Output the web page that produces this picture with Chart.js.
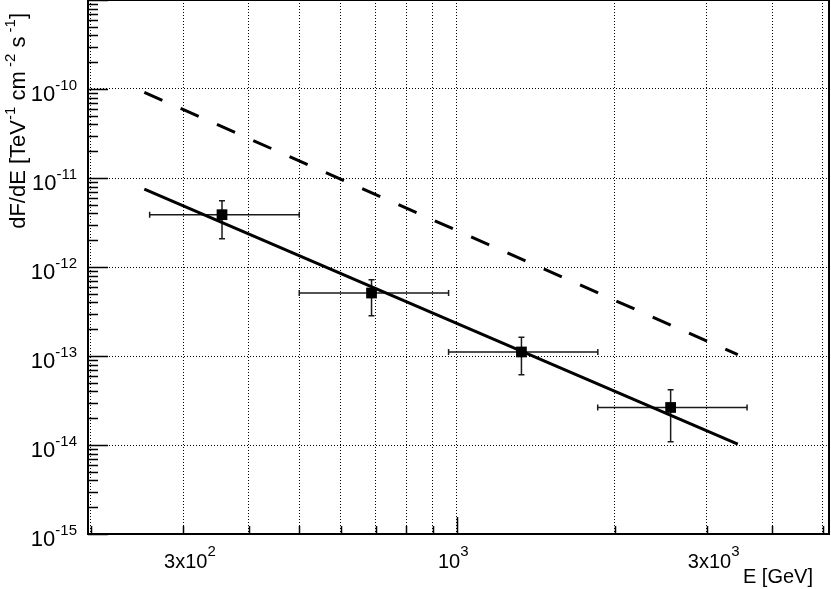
<!DOCTYPE html>
<html>
<head>
<meta charset="utf-8">
<script src="https://cdn.jsdelivr.net/npm/chart.js@4.4.1/dist/chart.umd.min.js"></script>
<style>
  html, body { margin: 0; padding: 0; background: #fff; }
  canvas { display: block; }
</style>
</head>
<body>
<canvas id="sed" width="831" height="589"></canvas>
<script>
// ===== DADOS =====
// pontos medidos (E em GeV, fluxo em TeV^-1 cm^-2 s^-1)
const energy    = [356, 687, 1328, 2559];
const energyLo  = [259, 500, 964, 1857];
const energyHi  = [500, 964, 1858, 3581];
const flux      = [3.87e-12, 5.1e-13, 1.11e-13, 2.64e-14];
const fluxLo    = [2.08e-12, 2.84e-13, 6.16e-14, 1.09e-14];
const fluxHi    = [5.56e-12, 7.2e-13, 1.62e-13, 4.18e-14];

// ajuste (linha cheia) e limite (tracejada)
const fitE      = [253, 3438];
const fitFlux   = [7.52e-12, 1.026e-14];
const refE      = [253, 3438];
const refFlux   = [9.16e-11, 1.035e-13];

// eixos
const xGrid     = [200, 300, 400, 500, 600, 700, 800, 900, 1000, 2000, 3000, 4000, 5000];
const xMajor    = [1000];
const xLabels   = [{ v: 300, base: '3x10', exp: '2' }, { v: 1000, base: '10', exp: '3' }, { v: 3000, base: '3x10', exp: '3' }];
const yDecades  = [-15, -14, -13, -12, -11, -10, -9];
const yMinor    = [2, 3, 4, 5, 6, 7, 8, 9];
const yLabelExp = [-15, -14, -13, -12, -11, -10];

const FONT = '"Liberation Sans", Arial, sans-serif';

function drawPower(ctx, x, y, base, exp, size, supSize, supRise) {
    ctx.font = size + 'px ' + FONT;
    ctx.fillText(base, x, y);
    const w = ctx.measureText(base).width;
    ctx.font = supSize + 'px ' + FONT;
    ctx.fillText(exp, x + w, y - supRise);
    return w + ctx.measureText(exp).width;
}

function powerWidth(ctx, base, exp, size, supSize) {
    ctx.font = size + 'px ' + FONT;
    const w = ctx.measureText(base).width;
    ctx.font = supSize + 'px ' + FONT;
    return w + ctx.measureText(exp).width;
}

// ===== BARRAS DE ERRO =====
const errorBars = {
    id: 'errorBars',
    beforeDatasetsDraw(chart) {
        const { ctx, scales: { x, y } } = chart;
        ctx.save();
        ctx.strokeStyle = '#1a1a1a';
        ctx.lineWidth = 1.5;
        const cap = 3;
        for (let i = 0; i < energy.length; i++) {
            const px = x.getPixelForValue(energy[i]);
            const py = y.getPixelForValue(flux[i]);
            const xl = x.getPixelForValue(energyLo[i]);
            const xh = x.getPixelForValue(energyHi[i]);
            const yl = y.getPixelForValue(fluxLo[i]);
            const yh = y.getPixelForValue(fluxHi[i]);
            ctx.beginPath();
            ctx.moveTo(xl, py); ctx.lineTo(xh, py);
            ctx.moveTo(xl, py - cap); ctx.lineTo(xl, py + cap);
            ctx.moveTo(xh, py - cap); ctx.lineTo(xh, py + cap);
            ctx.moveTo(px, yl); ctx.lineTo(px, yh);
            ctx.moveTo(px - cap, yl); ctx.lineTo(px + cap, yl);
            ctx.moveTo(px - cap, yh); ctx.lineTo(px + cap, yh);
            ctx.stroke();
        }
        ctx.restore();
    }
};

// ===== MOLDURA, TICKS E RÓTULOS (estilo ROOT) =====
const rootFrame = {
    id: 'rootFrame',
    afterDraw(chart) {
        const { ctx, chartArea: a, scales: { x, y } } = chart;
        ctx.save();
        ctx.strokeStyle = '#000';
        ctx.lineWidth = 2;
        ctx.strokeRect(a.left, a.top, a.right - a.left, a.bottom - a.top);

        // ticks do eixo x, para dentro
        ctx.lineWidth = 1.5;
        ctx.beginPath();
        xGrid.forEach(v => {
            const px = Math.round(x.getPixelForValue(v)) + 0.5;
            const len = xMajor.includes(v) ? 17 : 8;
            ctx.moveTo(px, a.bottom); ctx.lineTo(px, a.bottom - len);
        });
        // ticks do eixo y
        yDecades.forEach(e => {
            const py = Math.round(y.getPixelForValue(Math.pow(10, e))) + 0.5;
            ctx.moveTo(a.left, py); ctx.lineTo(a.left + 20, py);
            if (e === yDecades[yDecades.length - 1]) return;
            yMinor.forEach(m => {
                const q = Math.round(y.getPixelForValue(m * Math.pow(10, e))) + 0.5;
                ctx.moveTo(a.left, q); ctx.lineTo(a.left + 10, q);
            });
        });
        ctx.stroke();

        // rótulos
        ctx.fillStyle = '#000';
        ctx.textBaseline = 'alphabetic';
        ctx.textAlign = 'left';
        xLabels.forEach(l => {
            const px = x.getPixelForValue(l.v);
            drawPower(ctx, px - 19, a.bottom + 34, l.base, l.exp, 20, 15, 12.5);
        });
        yLabelExp.forEach(e => {
            const py = y.getPixelForValue(Math.pow(10, e));
            const s = String(e);
            const w = powerWidth(ctx, '10', s, 22, 15);
            drawPower(ctx, 77 - w, py + 12, '10', s, 22, 15, 11);
        });

        // título do eixo x
        ctx.font = '20px ' + FONT;
        ctx.textAlign = 'right';
        ctx.fillText('E [GeV]', 813, 583);
        ctx.textAlign = 'left';

        // título do eixo y (rotacionado)
        const parts = [['dF/dE [TeV', 0], ['-1', 1], [' cm', 0], [' -2', 1], [' s', 0], [' -1', 1], [']', 0]];
        let total = 0;
        parts.forEach(p => {
            ctx.font = (p[1] ? 15 : 22) + 'px ' + FONT;
            total += ctx.measureText(p[0]).width;
        });
        ctx.translate(25, 13 + total);
        ctx.rotate(-Math.PI / 2);
        let cx = 0;
        parts.forEach(p => {
            ctx.font = (p[1] ? 15 : 22) + 'px ' + FONT;
            ctx.fillText(p[0], cx, p[1] ? -10.5 : 0);
            cx += ctx.measureText(p[0]).width;
        });
        ctx.restore();
    }
};

// ===== GRÁFICO =====
new Chart(document.getElementById('sed'), {
    type: 'scatter',
    data: {
        datasets: [
            {
                label: 'pontos',
                data: energy.map((e, i) => ({ x: e, y: flux[i] })),
                pointStyle: 'rect',
                pointRadius: 7.6,
                backgroundColor: '#000',
                borderColor: '#000',
                borderWidth: 0,
            },
            {
                label: 'ajuste',
                data: fitE.map((e, i) => ({ x: e, y: fitFlux[i] })),
                showLine: true,
                borderColor: '#000',
                borderWidth: 3,
                pointRadius: 0,
            },
            {
                label: 'referência',
                data: refE.map((e, i) => ({ x: e, y: refFlux[i] })),
                showLine: true,
                borderColor: '#000',
                borderWidth: 3,
                borderDash: [19.7, 20],
                pointRadius: 0,
            }
        ]
    },
    options: {
        responsive: false,
        animation: false,
        layout: { autoPadding: false, padding: { left: 88, right: 2, top: 0, bottom: 55 } },
        plugins: { legend: { display: false }, tooltip: { enabled: false } },
        scales: {
            x: {
                type: 'logarithmic',
                min: 197.5,
                max: 5134,
                afterBuildTicks: s => { s.ticks = xGrid.map(v => ({ value: v })); },
                ticks: { display: false, autoSkip: false },
                grid: { color: '#000', lineWidth: 1, drawTicks: false },
                border: { display: false, dash: [1, 2] }
            },
            y: {
                type: 'logarithmic',
                min: 1e-15,
                max: 1e-9,
                afterBuildTicks: s => { s.ticks = yDecades.map(e => ({ value: Math.pow(10, e) })); },
                ticks: { display: false, autoSkip: false },
                grid: { color: '#000', lineWidth: 1, drawTicks: false },
                border: { display: false, dash: [1, 2] }
            }
        }
    },
    plugins: [errorBars, rootFrame]
});
</script>
</body>
</html>
